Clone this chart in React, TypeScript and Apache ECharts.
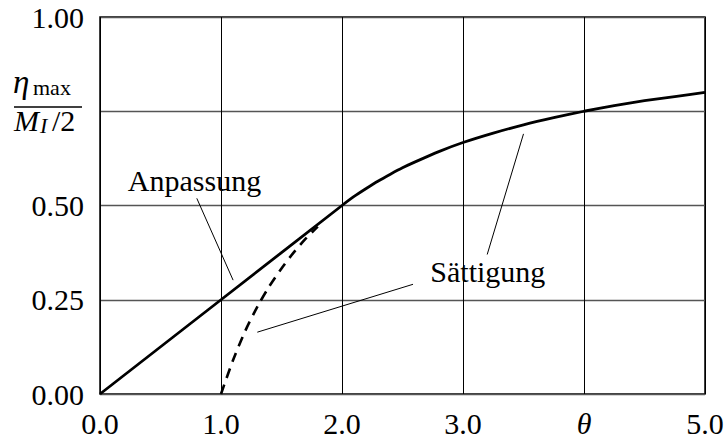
import React, { useEffect, useRef } from "react";
import * as echarts from "echarts";

const xTicks = ["0.0", "1.0", "2.0", "3.0", "θ", "5.0"];
const yTicks = ["0.00", "0.25", "0.50", "", "1.00"];

const solidX = [0, 1, 2, 2.1, 2.2, 2.3, 2.4, 2.5, 2.6, 2.8, 3.0, 3.25, 3.5, 3.75, 4.0, 4.25, 4.5, 4.75, 5.0];
const solidY = [0, 0.25, 0.5, 0.524, 0.545, 0.565, 0.583, 0.6, 0.615, 0.643, 0.667, 0.692, 0.714, 0.733, 0.75, 0.765, 0.778, 0.789, 0.8];

const dashX = [1.0, 1.1, 1.2, 1.3, 1.4, 1.5, 1.6, 1.7, 1.8];
const dashY = [0, 0.09, 0.167, 0.231, 0.286, 0.333, 0.375, 0.412, 0.444];

const FONT = "Liberation Serif";

export default function App() {
  const ref = useRef<HTMLDivElement>(null);
  useEffect(() => {
    if (!ref.current) return;
    const chart = echarts.init(ref.current, undefined, { renderer: "svg" });
    const L = 100, T = 17, W = 605, H = 378;
    chart.setOption({
      animation: false,
      backgroundColor: "#fff",
      textStyle: { fontFamily: FONT },
      grid: { left: L, top: T, width: W, height: H, show: true, borderColor: "#000", borderWidth: 1.5, backgroundColor: "transparent" },
      xAxis: {
        type: "value", min: 0, max: 5, interval: 1,
        axisLine: { show: false }, axisTick: { show: false },
        splitLine: { show: true, lineStyle: { color: "#000", width: 1 } },
        axisLabel: {
          margin: 14, color: "#000", fontFamily: FONT, fontSize: 30,
          formatter: (v: number) => {
            const s = xTicks[Math.round(v)];
            return s === "θ" ? "{t|θ}" : s;
          },
          rich: { t: { fontFamily: FONT, fontSize: 30, fontStyle: "italic", color: "#000" } },
        },
      },
      yAxis: {
        type: "value", min: 0, max: 1, interval: 0.25,
        axisLine: { show: false }, axisTick: { show: false },
        splitLine: { show: true, lineStyle: { color: "#555", width: 1.3 } },
        axisLabel: {
          margin: 16, color: "#000", fontFamily: FONT, fontSize: 30,
          formatter: (v: number) => yTicks[Math.round(v * 4)],
        },
      },
      series: [
        {
          type: "line", data: solidX.map((x, i) => [x, solidY[i]]), showSymbol: false, smooth: 0.2,
          lineStyle: { color: "#000", width: 2.8 }, z: 3,
        },
        {
          type: "line", data: dashX.map((x, i) => [x, dashY[i]]), showSymbol: false, smooth: 0.3,
          lineStyle: { color: "#000", width: 2.6, type: [10, 7] }, z: 3,
        },
      ],
    });
    const px = (x: number, y: number) => chart.convertToPixel({ gridIndex: 0 }, [x, y]) as number[];
    const seg = (a: number[], b: number[]) => {
      const p = px(a[0], a[1]);
      const q = px(b[0], b[1]);
      return { type: "line", shape: { x1: p[0], y1: p[1], x2: q[0], y2: q[1] }, style: { stroke: "#000", lineWidth: 1 }, z: 10 };
    };
    const txt = (text: string, x: number, y: number, size: number, italic: boolean) => ({
      type: "text", x, y, z: 10,
      style: { text, fill: "#000", fontFamily: FONT, fontSize: size, fontStyle: italic ? "italic" : "normal", textAlign: "left", textVerticalAlign: "middle" },
    });
    const anp = px(0.23, 0.565);
    const sat = px(2.73, 0.325);
    chart.setOption({
      graphic: [
        seg([0.8, 0.519], [1.1, 0.302]),
        seg([2.587, 0.291], [1.3, 0.164]),
        seg([3.5, 0.69], [3.2, 0.37]),
        txt("Anpassung", anp[0], anp[1], 30, false),
        txt("Sättigung", sat[0], sat[1], 30, false),
        txt("η", 13, 82, 33, true),
        txt("max", 33, 87.6, 22, false),
        { type: "line", shape: { x1: 14, y1: 107, x2: 82, y2: 107 }, style: { stroke: "#000", lineWidth: 1.5 } },
        txt("M", 14, 120, 30, true),
        txt("I", 40, 125.6, 22, true),
        txt("/2", 52, 120, 30, false),
      ],
    });
    return () => chart.dispose();
  }, []);
  return <div ref={ref} style={{ position: "absolute", left: 0, top: 0, width: 728, height: 438 }} />;
}
